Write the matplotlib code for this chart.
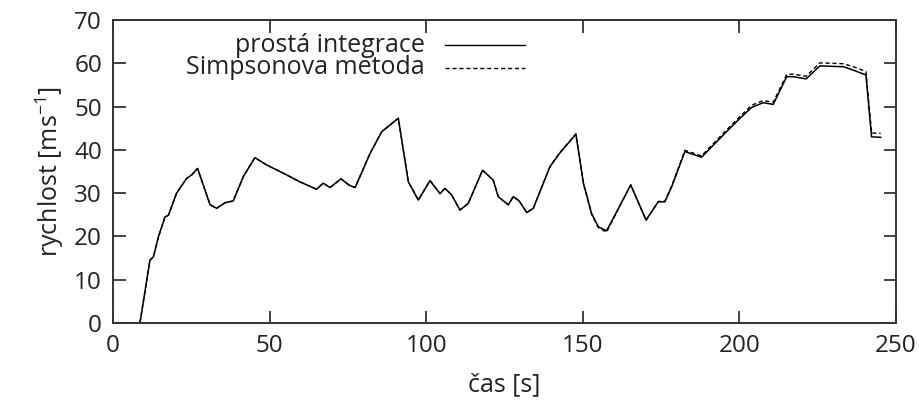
import matplotlib.pyplot as plt

plt.rcParams['font.family'] = ['Open Sans', 'DejaVu Sans']
plt.rcParams['mathtext.fontset'] = 'custom'
plt.rcParams['mathtext.rm'] = 'Open Sans'

# cas [s]
t = [0, 8.6, 11.8, 12.9, 14.5, 16.6, 17.7, 20.3, 23.5, 25.1, 27.0, 31.0, 33.1, 35.8,
     38.4, 41.6, 45.3, 49.1, 54.4, 59.7, 65.0, 67.1, 69.3, 72.8, 75.5, 77.3, 82.1,
     85.8, 91.1, 94.3, 97.5, 101.2, 104.4, 106.0, 108.1, 110.8, 113.4, 118.0, 121.4,
     123.0, 126.2, 127.8, 129.7, 132.1, 134.2, 139.5, 142.7, 147.8, 150.2, 152.8,
     155.0, 157.6, 161.4, 165.3, 170.2, 174.1, 176.2, 178.4, 182.6, 187.9, 195.9,
     200.2, 203.9, 207.6, 210.8, 215.1, 217.2, 221.3, 225.7, 233.2, 236.4, 240.4,
     242.2, 245.1]

# rychlost - prosta integrace
v_prosta = [0, 0, 14.5, 15.3, 19.9, 24.5, 24.9, 30.0, 33.4, 34.2, 35.7, 27.3, 26.5, 27.8,
            28.2, 33.8, 38.2, 36.5, 34.6, 32.6, 30.9, 32.3, 31.3, 33.3, 31.8, 31.3, 39.2,
            44.2, 47.3, 32.6, 28.4, 32.9, 29.9, 31.1, 29.6, 26.1, 27.6, 35.3, 33.0,
            29.2, 27.3, 29.2, 28.2, 25.5, 26.5, 36.1, 39.3, 43.6, 32.3, 25.3,
            22.2, 21.3, 26.5, 31.9, 23.8, 28.0, 28.0, 31.5, 39.6, 38.3, 44.2,
            47.3, 49.8, 50.9, 50.5, 56.9, 56.9, 56.4, 59.4, 59.2, 58.4, 57.3,
            43.0, 42.9]

# rychlost - Simpsonova metoda
v_simpson = [0, 0, 14.5, 15.3, 19.9, 24.5, 24.9, 30.0, 33.4, 34.2, 35.7, 27.3, 26.5, 27.8,
             28.2, 33.8, 38.2, 36.5, 34.6, 32.6, 30.9, 32.3, 31.3, 33.3, 31.8, 31.3, 39.2,
             44.2, 47.3, 32.6, 28.4, 32.9, 29.9, 31.1, 29.6, 26.1, 27.6, 35.3, 33.0,
             29.2, 27.3, 29.2, 28.2, 25.5, 26.5, 36.1, 39.4, 43.7, 32.3, 25.1,
             22.0, 21.0, 26.4, 31.9, 23.7, 28.1, 28.1, 31.7, 39.9, 38.6, 44.6,
             47.7, 50.3, 51.4, 51.0, 57.4, 57.5, 57.0, 60.1, 59.9, 59.2, 58.1,
             43.9, 43.8]

fig = plt.figure(figsize=(9.2, 4.09), dpi=100)
ax = fig.add_axes([113 / 920, 86 / 409, 783 / 920, 303 / 409])

ax.plot(t, v_prosta, color='black', lw=1.1, ls='-')
ax.plot(t, v_simpson, color='black', lw=1.0, ls=(0, (3, 2)))

ax.set_xlim(0, 250)
ax.set_ylim(0, 70)
ax.set_xticks(range(0, 251, 50))
ax.set_yticks(range(0, 71, 10))
ax.tick_params(direction='in', length=9, width=1.2, top=True, right=True,
               labelsize=17.5, pad=8, colors='#222222')
for s in ax.spines.values():
    s.set_linewidth(1.4)
    s.set_color('#333333')

ax.set_xlabel('čas [s]', fontsize=18, labelpad=10, color='#222222')
ax.set_ylabel('rychlost [ms$^{-1}$]', fontsize=18, labelpad=6, color='#222222')

# legenda vlevo nahore, text zarovnany doprava
legend_rows = [('prostá integrace', '-', 0.917), ('Simpsonova metoda', (0, (3, 2)), 0.842)]
for label, style, yy in legend_rows:
    ax.text(0.398, yy, label, transform=ax.transAxes, ha='right', va='center',
            fontsize=18, color='#222222')
    ax.plot([0.424, 0.526], [yy, yy], transform=ax.transAxes, color='black',
            lw=1.0, ls=style)

fig.savefig('out.png', dpi=100)
